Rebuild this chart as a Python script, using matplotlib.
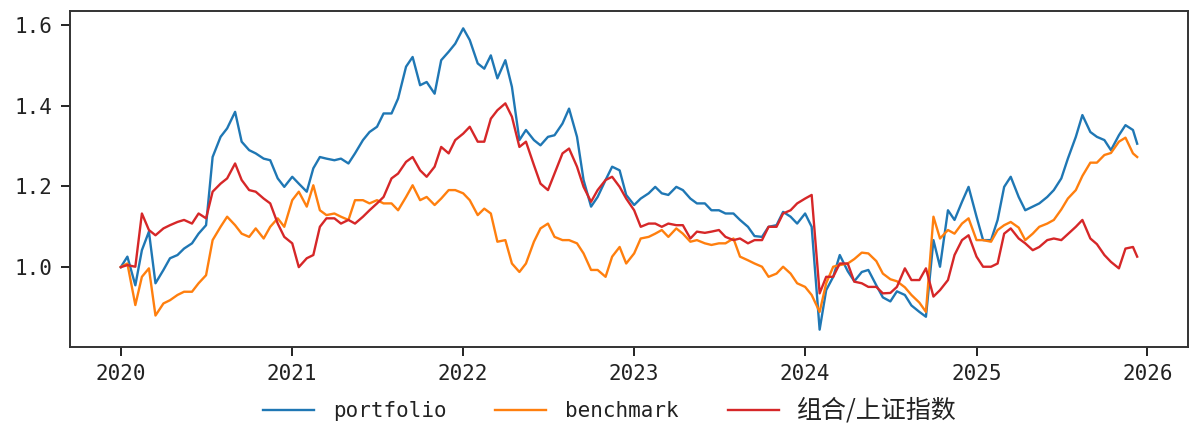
import matplotlib
matplotlib.use('Agg')
import matplotlib.pyplot as plt
import pandas as pd

# semi-monthly sample dates (1st / 15th) plus the last day shown
dates = list(pd.date_range('2020-01-01', '2025-12-01', freq='SMS')) + [pd.Timestamp('2025-12-10')]

portfolio = [
    # 2020
    1.000, 1.026, 0.955, 1.042, 1.088, 0.960, 0.993, 1.022, 1.030, 1.046, 1.059, 1.083,
    1.104, 1.273, 1.323, 1.344, 1.385, 1.311, 1.290, 1.282, 1.269, 1.265, 1.220, 1.199,
    # 2021
    1.224, 1.207, 1.187, 1.245, 1.273, 1.269, 1.265, 1.269, 1.257, 1.282, 1.315, 1.335,
    1.348, 1.381, 1.381, 1.418, 1.497, 1.521, 1.451, 1.459, 1.430, 1.513, 1.534, 1.554,
    # 2022
    1.592, 1.563, 1.505, 1.492, 1.525, 1.468, 1.513, 1.447, 1.315, 1.340, 1.315, 1.302,
    1.323, 1.327, 1.356, 1.393, 1.323, 1.216, 1.150, 1.174, 1.216, 1.249, 1.240, 1.179,
    # 2023
    1.154, 1.170, 1.183, 1.199, 1.183, 1.179, 1.199, 1.191, 1.170, 1.158, 1.158, 1.141,
    1.141, 1.133, 1.133, 1.117, 1.100, 1.077, 1.075, 1.100, 1.104, 1.137, 1.125, 1.108,
    # 2024
    1.133, 1.100, 0.845, 0.943, 0.976, 1.030, 0.990, 0.965, 0.988, 0.993, 0.955, 0.925,
    0.915, 0.940, 0.931, 0.905, 0.889, 0.877, 1.067, 1.001, 1.141, 1.117, 1.162, 1.199,
    # 2025
    1.125, 1.067, 1.067, 1.117, 1.199, 1.224, 1.174, 1.141, 1.150, 1.158, 1.174, 1.191,
    1.220, 1.269, 1.323, 1.377, 1.335, 1.323, 1.315, 1.290, 1.327, 1.352, 1.340, 1.306,
]

benchmark = [
    # 2020
    1.000, 1.009, 0.906, 0.976, 0.997, 0.880, 0.910, 0.918, 0.931, 0.939, 0.939, 0.960,
    0.980, 1.067, 1.100, 1.125, 1.104, 1.083, 1.075, 1.096, 1.071, 1.100, 1.121, 1.100,
    # 2021
    1.166, 1.187, 1.150, 1.203, 1.141, 1.129, 1.133, 1.125, 1.117, 1.166, 1.166, 1.158,
    1.166, 1.158, 1.158, 1.141, 1.174, 1.203, 1.166, 1.174, 1.154, 1.170, 1.191, 1.191,
    # 2022
    1.183, 1.166, 1.129, 1.145, 1.133, 1.063, 1.067, 1.009, 0.988, 1.009, 1.063, 1.096,
    1.108, 1.075, 1.067, 1.067, 1.059, 1.034, 0.993, 0.993, 0.976, 1.026, 1.050, 1.009,
    # 2023
    1.034, 1.071, 1.075, 1.083, 1.092, 1.075, 1.096, 1.083, 1.063, 1.067, 1.059, 1.055,
    1.059, 1.059, 1.071, 1.026, 1.017, 1.009, 1.001, 0.976, 0.984, 1.001, 0.984, 0.960,
    # 2024
    0.951, 0.931, 0.889, 0.960, 1.001, 1.005, 1.009, 1.020, 1.036, 1.034, 1.015, 0.984,
    0.970, 0.965, 0.950, 0.931, 0.912, 0.889, 1.125, 1.071, 1.092, 1.083, 1.108, 1.121,
    # 2025
    1.067, 1.067, 1.063, 1.092, 1.104, 1.112, 1.098, 1.067, 1.083, 1.100, 1.108, 1.117,
    1.143, 1.170, 1.191, 1.226, 1.259, 1.259, 1.278, 1.283, 1.311, 1.321, 1.282, 1.273,
]

ratio = [
    # 2020
    1.000, 1.005, 1.001, 1.133, 1.092, 1.079, 1.096, 1.104, 1.112, 1.117, 1.108, 1.133,
    1.121, 1.187, 1.207, 1.220, 1.257, 1.216, 1.191, 1.187, 1.170, 1.158, 1.108, 1.075,
    # 2021
    1.059, 1.000, 1.022, 1.030, 1.100, 1.121, 1.121, 1.108, 1.117, 1.108, 1.125, 1.141,
    1.158, 1.174, 1.220, 1.232, 1.261, 1.273, 1.240, 1.224, 1.249, 1.298, 1.282, 1.315,
    # 2022
    1.331, 1.348, 1.311, 1.311, 1.368, 1.389, 1.406, 1.373, 1.298, 1.311, 1.253, 1.207,
    1.191, 1.232, 1.282, 1.294, 1.249, 1.199, 1.162, 1.191, 1.216, 1.224, 1.199, 1.170,
    # 2023
    1.141, 1.100, 1.108, 1.108, 1.100, 1.108, 1.104, 1.104, 1.071, 1.088, 1.085, 1.088,
    1.092, 1.075, 1.067, 1.071, 1.059, 1.067, 1.067, 1.100, 1.100, 1.133, 1.141, 1.158,
    # 2024
    1.170, 1.179, 0.935, 0.976, 0.976, 1.009, 1.009, 0.964, 0.960, 0.951, 0.951, 0.935,
    0.936, 0.951, 0.997, 0.968, 0.968, 0.997, 0.927, 0.943, 0.968, 1.030, 1.067, 1.079,
    # 2025
    1.026, 1.001, 1.001, 1.009, 1.083, 1.096, 1.071, 1.059, 1.042, 1.050, 1.067, 1.071,
    1.067, 1.082, 1.100, 1.117, 1.071, 1.057, 1.030, 1.013, 0.997, 1.046, 1.050, 1.026,
]

labels = ['portfolio', 'benchmark', '组合/上证指数']
colors = ['#1f77b4', '#ff7f0e', '#d62728']

plt.rcParams['font.family'] = ['DejaVu Sans Mono', 'Noto Sans CJK SC']
plt.rcParams['font.size'] = 15

fig = plt.figure(figsize=(12, 4.32), dpi=100)
ax = fig.add_axes([70 / 1200, 1 - 347 / 432, 1118 / 1200, 336 / 432])

for ys, lab, c in zip([portfolio, benchmark, ratio], labels, colors):
    ax.plot(dates, ys, color=c, lw=1.7, label=lab)

ax.set_ylim(0.802, 1.635)
ax.tick_params(length=6.3, width=1.4, pad=6.3, labelsize=15, colors='#222222')
for sp in ax.spines.values():
    sp.set_linewidth(1.4)
    sp.set_color('#333333')

leg = fig.legend(loc='center', bbox_to_anchor=(610 / 1200, 1 - 410 / 432), ncol=3,
                 frameon=False, handlelength=2.45, handletextpad=0.9, columnspacing=2.35,
                 fontsize=15)
for line in leg.get_lines():
    line.set_linewidth(1.7)
for t in leg.get_texts():
    t.set_color('#222222')
cn = leg.get_texts()[2]
cn.set_fontfamily('Noto Sans CJK SC')
cn.set_fontsize(18)

fig.savefig('out.png', dpi=100, facecolor='white')
